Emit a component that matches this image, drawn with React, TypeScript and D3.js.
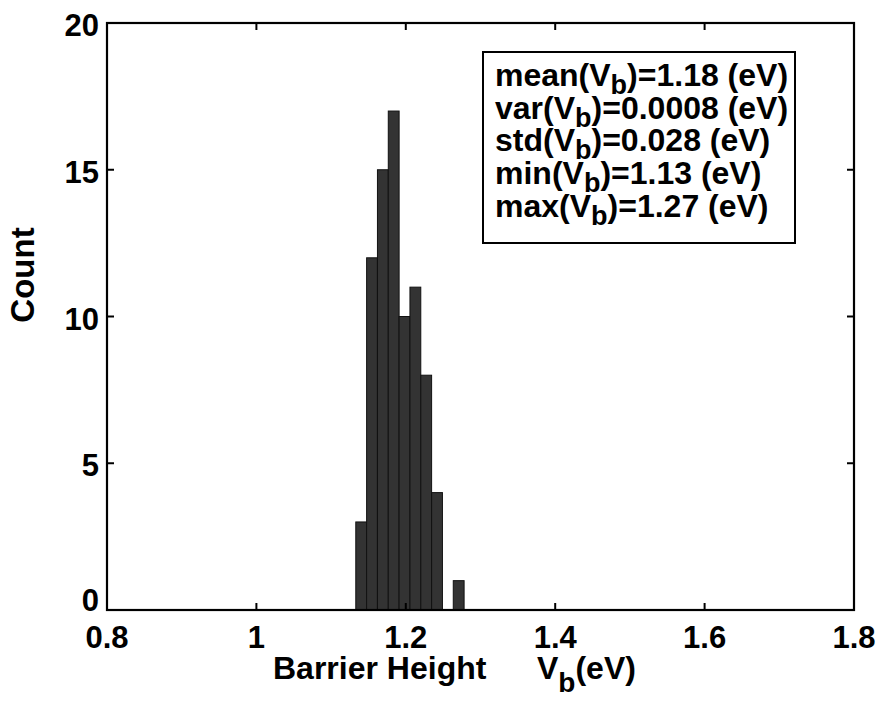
import React from 'react';
import * as d3 from 'd3';

// histogram bins (bin centres) and counts
const binCenters = [1.1403, 1.1548, 1.1693, 1.1838, 1.1983, 1.2128, 1.2273, 1.2418, 1.2563, 1.2708];
const binWidth = 0.0145;
const counts = [3, 12, 15, 17, 10, 11, 8, 4, 0, 1];

const xTicks = [0.8, 1, 1.2, 1.4, 1.6, 1.8];
const yTicks = [0, 5, 10, 15, 20];

const stats = [
  { fn: 'mean', value: '1.18' },
  { fn: 'var', value: '0.0008' },
  { fn: 'std', value: '0.028' },
  { fn: 'min', value: '1.13' },
  { fn: 'max', value: '1.27' },
];

const W = 881;
const H = 701;
const left = 107;
const right = 854;
const top = 23;
const bottom = 610;
const font = '"Liberation Sans", Arial, Helvetica, sans-serif';

export default function App() {
  const x = d3.scaleLinear().domain([0.8, 1.8]).range([left, right]);
  const y = d3.scaleLinear().domain([0, 20]).range([bottom, top]);
  const tickLen = 7;

  return (
    <svg
      width={W}
      height={H}
      style={{ position: 'absolute', left: 0, top: 0, background: '#fff' }}
      fontFamily={font}
      fontWeight="bold"
    >
      {/* bars */}
      {binCenters.map((c, i) =>
        counts[i] > 0 ? (
          <rect
            key={i}
            x={x(c - binWidth / 2)}
            y={y(counts[i])}
            width={x(c + binWidth / 2) - x(c - binWidth / 2)}
            height={y(0) - y(counts[i])}
            fill="#333333"
            stroke="#111111"
            strokeWidth={1}
          />
        ) : null
      )}

      {/* ticks on all four sides, pointing in */}
      {xTicks.slice(1, -1).map((t) => (
        <g key={'xt' + t} stroke="#000" strokeWidth={2}>
          <line x1={x(t)} x2={x(t)} y1={bottom} y2={bottom - tickLen} />
          <line x1={x(t)} x2={x(t)} y1={top} y2={top + tickLen} />
        </g>
      ))}
      {yTicks.slice(1, -1).map((t) => (
        <g key={'yt' + t} stroke="#000" strokeWidth={2}>
          <line x1={left} x2={left + tickLen} y1={y(t)} y2={y(t)} />
          <line x1={right} x2={right - tickLen} y1={y(t)} y2={y(t)} />
        </g>
      ))}

      {/* frame */}
      <rect
        x={left}
        y={top}
        width={right - left}
        height={bottom - top}
        fill="none"
        stroke="#000"
        strokeWidth={2.2}
      />

      {/* tick labels */}
      {xTicks.map((t) => (
        <text key={'xl' + t} x={x(t)} y={648} textAnchor="middle" fontSize={31}>
          {String(t)}
        </text>
      ))}
      {yTicks.map((t) => (
        <text
          key={'yl' + t}
          x={99}
          y={t === 0 ? y(t) - 10 : y(t) + 2}
          dy="0.36em"
          textAnchor="end"
          fontSize={31}
        >
          {String(t)}
        </text>
      ))}

      {/* axis labels */}
      <text x={273} y={679} fontSize={32}>
        Barrier Height
      </text>
      <text x={537} y={679} fontSize={32}>
        V
        <tspan fontSize={28} dy={13}>b</tspan>
        <tspan dy={-13}>(eV)</tspan>
      </text>
      <text
        transform={`translate(34, 275) rotate(-90)`}
        textAnchor="middle"
        fontSize={33}
      >
        Count
      </text>

      {/* stats box */}
      <rect x={483} y={52} width={312} height={191} fill="#fff" stroke="#000" strokeWidth={2} />
      {stats.map((s, i) => (
        <text key={s.fn} x={495} y={86 + i * 32.7} fontSize={32}>
          {s.fn}(V
          <tspan fontSize={27} dy={8}>b</tspan>
          <tspan dy={-8}>)={s.value} (eV)</tspan>
        </text>
      ))}
    </svg>
  );
}
